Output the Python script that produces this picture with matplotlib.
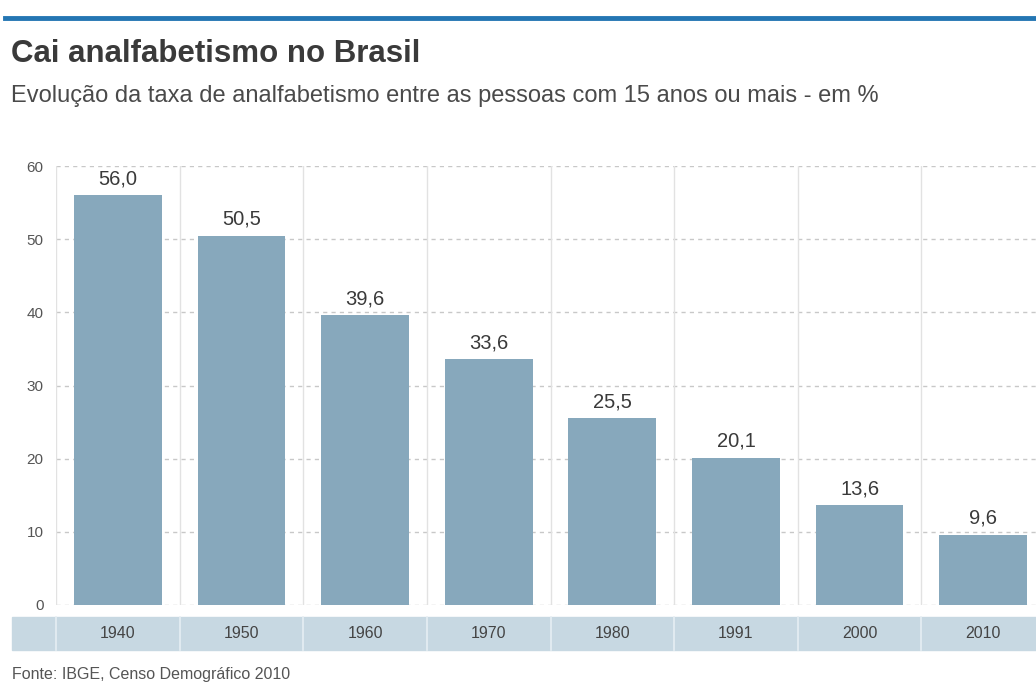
import matplotlib.pyplot as plt
import matplotlib.transforms as mtransforms
from matplotlib.patches import Rectangle
from matplotlib.lines import Line2D

# data
anos = ["1940", "1950", "1960", "1970", "1980", "1991", "2000", "2010"]
taxa = [56.0, 50.5, 39.6, 33.6, 25.5, 20.1, 13.6, 9.6]
rotulos = ["56,0", "50,5", "39,6", "33,6", "25,5", "20,1", "13,6", "9,6"]
yticks = [0, 10, 20, 30, 40, 50, 60]

plt.rcParams["font.family"] = ["Liberation Sans", "DejaVu Sans"]

W, H = 1036, 682
fig = plt.figure(figsize=(W / 100, H / 100), dpi=100)

# plot area in pixels: left 56, right 1045 (runs past the edge), y 166..605
left, right, top, bottom = 56, 1045, 166, 605
ax = fig.add_axes([left / W, 1 - bottom / H, (right - left) / W, (bottom - top) / H])

x = list(range(len(anos)))
ax.bar(x, taxa, width=0.71, color="#87a8bc", zorder=3)
for xi, v, lab in zip(x, taxa, rotulos):
    ax.annotate(lab, (xi, v), xytext=(0, 5), textcoords="offset points",
                ha="center", va="bottom", fontsize=14.5, color="#3a3a3a", zorder=4)

ax.set_xlim(-0.5, len(anos) - 0.5)
ax.set_ylim(0, 60)
ax.set_yticks(yticks)
ax.set_yticklabels([str(t) for t in yticks], fontsize=11, color="#555555")
ax.tick_params(axis="y", length=0, pad=9)
ax.set_xticks([])
for s in ax.spines.values():
    s.set_visible(False)

# dashed horizontal grid
for t in yticks:
    ax.axhline(t, color="#c8c8c8", lw=1.0, ls=(0, (3, 3)), zorder=1)
# vertical separators between categories
for b in range(len(anos) + 1):
    ax.axvline(b - 0.5, color="#e2e2e2", lw=1.0, zorder=1)

# year band under the plot
band_top, band_bot = 617, 650
fig.patches.append(Rectangle((12 / W, 1 - band_bot / H), (W - 12) / W, (band_bot - band_top) / H,
                             transform=fig.transFigure, color="#c7d8e2", zorder=0))
trans = mtransforms.blended_transform_factory(ax.transData, fig.transFigure)
for b in range(len(anos) + 1):
    fig.lines.append(Line2D([b - 0.5, b - 0.5], [1 - band_bot / H, 1 - band_top / H],
                            transform=trans, color="#e6eef3", lw=1.2))
for xi, ano in zip(x, anos):
    fig.text(xi, 1 - 634 / H, ano, transform=trans, ha="center", va="center",
             fontsize=11.5, color="#444444")

# top rule, title, subtitle, source
fig.lines.append(Line2D([5 / W, 1], [1 - 18 / H, 1 - 18 / H], transform=fig.transFigure,
                        color="#2476b3", lw=3.5))
fig.text(11 / W, 1 - 62 / H, "Cai analfabetismo no Brasil", fontsize=22.5, fontweight="bold",
         color="#3a3a3a", va="baseline", ha="left")
fig.text(11 / W, 1 - 102 / H, "Evolução da taxa de analfabetismo entre as pessoas com 15 anos ou mais - em %",
         fontsize=17, color="#4a4a4a", va="baseline", ha="left")
fig.text(12 / W, 1 - 675 / H, "Fonte: IBGE, Censo Demográfico 2010", fontsize=11.5,
         color="#555555", va="center", ha="left")

fig.savefig("out.png", dpi=100)
